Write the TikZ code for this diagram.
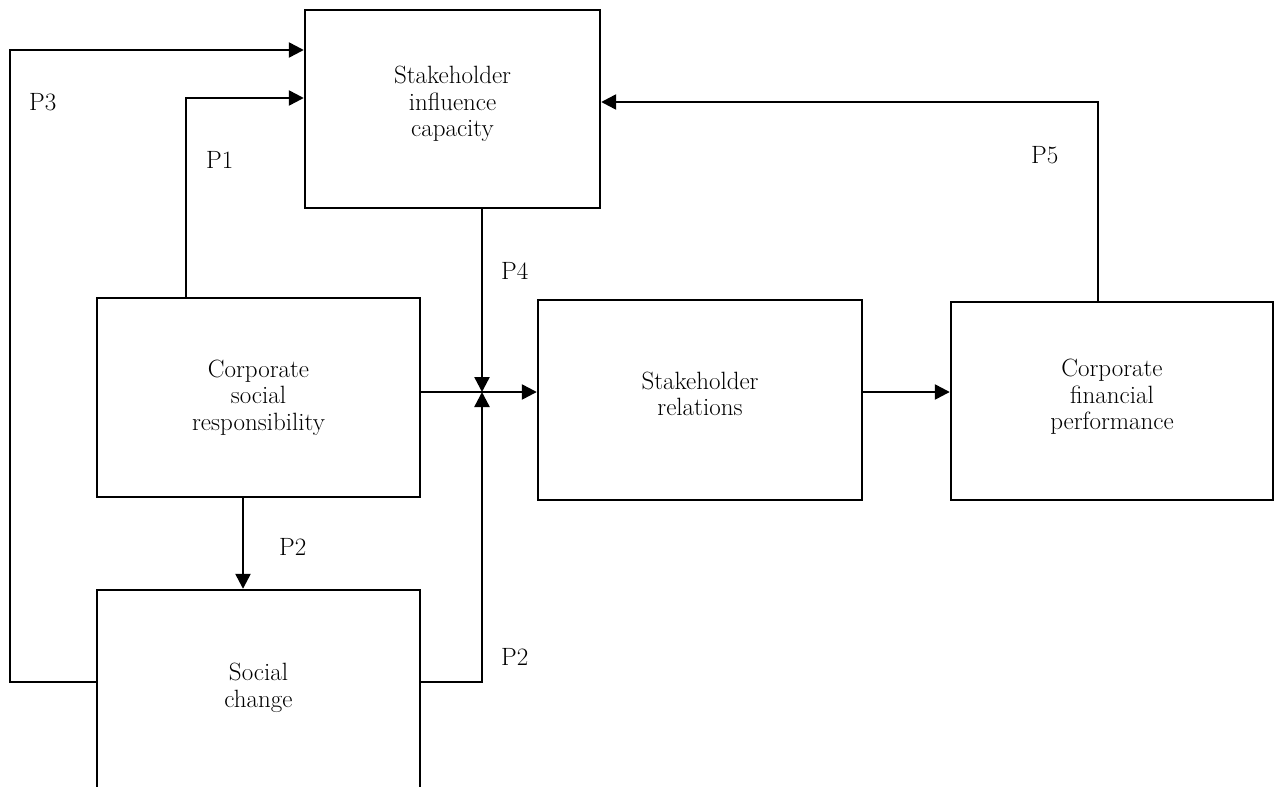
\documentclass[tikz,border=0pt]{standalone}
\usepackage{fontspec}
\usetikzlibrary{arrows.meta}
\begin{document}
\begin{tikzpicture}[x=1pt,y=-1pt,
  box/.style={draw,line width=2.4pt,inner sep=0pt,align=center,font=\fontsize{25}{26.5}\selectfont},
  lbl/.style={font=\fontsize{25}{26.5}\selectfont,inner sep=0pt},
  conn/.style={line width=2.4pt},
  arr/.style={conn,-{Triangle[length=15pt,width=15pt]}}]
\useasboundingbox (0,0) rectangle (1275,787);
\clip (0,0) rectangle (1275,787);
% boxes
\node[box,minimum width=295pt,minimum height=198pt] (sic) at (452.5,109) {};
\node[lbl,align=center] (sict) at (452.5,104) {Stakeholder\\influence\\capacity};
\node[box,minimum width=323pt,minimum height=199pt] (csr) at (258.5,397.5) {Corporate\\social\\responsibility};
\node[box,minimum width=323pt,minimum height=240pt] (sc) at (258.5,710) {};
\node[lbl,align=center] (sct) at (258.5,688) {Social\\change};
\node[box,minimum width=324pt,minimum height=200pt] (sr) at (700,400) {};
\node[lbl,align=center] (srt) at (700,394) {Stakeholder\\relations};
\node[box,minimum width=322pt,minimum height=198pt] (cfp) at (1112,401) {};
\node[lbl,align=center] (cfpt) at (1112,397) {Corporate\\financial\\performance};
% helper coordinates
\coordinate (j) at (482,392);
\coordinate (p3c) at (10,682);
\coordinate (p3t) at (10,50);
\coordinate (p1c) at (186,98);
\coordinate (p5c) at (1098,102);
\coordinate (p2c) at (482,682);
\coordinate (p2x) at (243,0);
% connectors
\draw[arr] (sc.west |- p3c) -- (p3c) -- (p3t) -- (sic.west |- p3t);
\draw[arr] (csr.north -| p1c) -- (p1c) -- (sic.west |- p1c);
\draw[arr] (sic.south -| j) -- (j);
\draw[arr] (csr.east |- j) -- (sr.west |- j);
\draw[arr] (csr.south -| p2x) -- (sc.north -| p2x);
\draw[arr] (sc.east |- p2c) -- (p2c) -- (j);
\draw[arr] (sr.east |- j) -- (cfp.west |- j);
\draw[arr] (cfp.north -| p5c) -- (p5c) -- (sic.east |- p5c);
% labels
\node[lbl,anchor=west] (lp3) at (29,102) {P3};
\node[lbl,anchor=west] (lp1) at (206,160) {P1};
\node[lbl,anchor=west] (lp4) at (501,271) {P4};
\node[lbl,anchor=west] (lp2a) at (279,547) {P2};
\node[lbl,anchor=west] (lp2b) at (501,657) {P2};
\node[lbl,anchor=west] (lp5) at (1031,155) {P5};
\end{tikzpicture}
\end{document}
